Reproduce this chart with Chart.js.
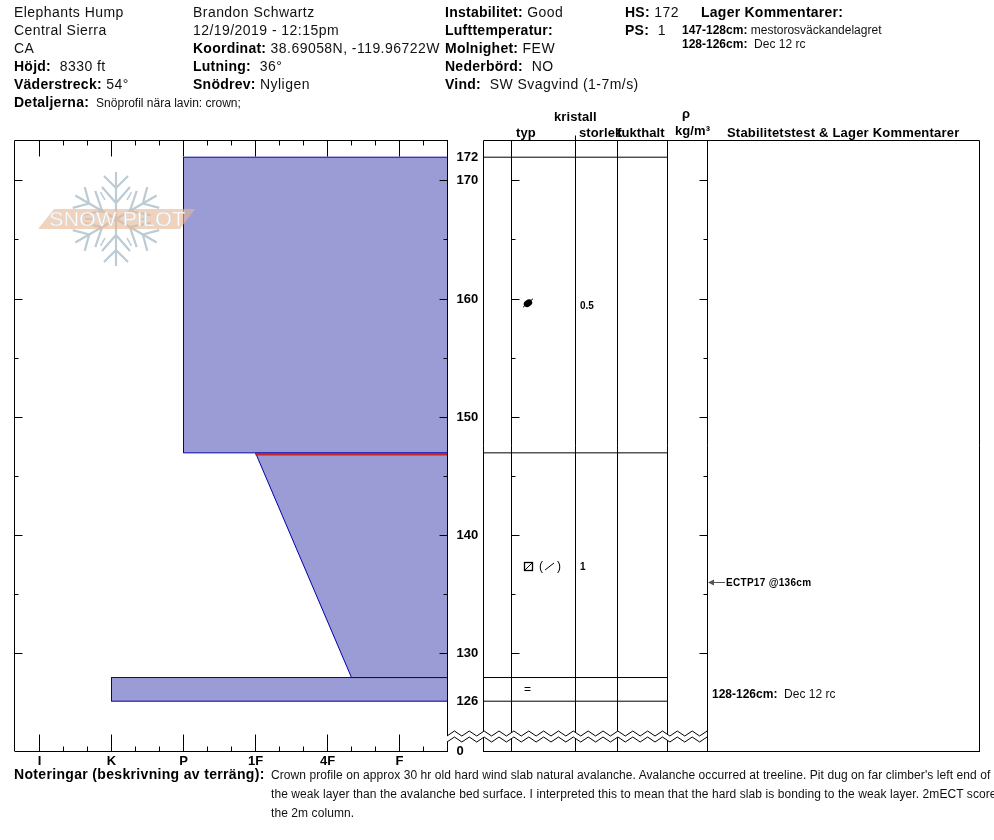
<!DOCTYPE html>
<html>
<head>
<meta charset="utf-8">
<title>Snow profile</title>
<script src="https://cdn.jsdelivr.net/npm/chart.js@4"></script>
<style>
html,body{margin:0;padding:0;background:#fff;width:994px;height:840px;overflow:hidden}
canvas{position:absolute;left:0;top:0}
.t{position:absolute;white-space:nowrap;font-family:"Liberation Sans",Arial,sans-serif;font-size:14px;line-height:18px;color:#111;letter-spacing:.45px}
.t b{font-weight:bold;color:#000;letter-spacing:.25px}
.s{font-size:12px;letter-spacing:0}
.s b{letter-spacing:0}
.h{font-size:13px;letter-spacing:0}
.h b{letter-spacing:.1px}
.n{font-size:12px;letter-spacing:.08px}
#logo{position:absolute;left:0;top:0}
</style>
</head>
<body>
<canvas id="profile" width="994" height="840"></canvas>
<canvas id="table" width="994" height="840"></canvas>
<svg id="logo" width="994" height="840">
  <defs>
    <g id="arm" fill="none" stroke="#bccbd4" stroke-width="2.2">
      <path d="M116 219V172M104 176L116 188L128 176M102 187L116 203L130 187"/>
      <path d="M116 197V188" stroke-width="1.5" transform="rotate(30 116 219)"/>
    </g>
  </defs>
  <use href="#arm"/>
  <use href="#arm" transform="rotate(60 116 219)"/>
  <use href="#arm" transform="rotate(120 116 219)"/>
  <use href="#arm" transform="rotate(180 116 219)"/>
  <use href="#arm" transform="rotate(240 116 219)"/>
  <use href="#arm" transform="rotate(300 116 219)"/>
  <polygon points="38,229 54,209 195,209 180,229" fill="#e8b894" fill-opacity="0.62"/>
  <text x="49" y="226" textLength="136" lengthAdjust="spacingAndGlyphs" font-family="Liberation Sans" font-size="20" fill="#ffffff" stroke="#d5dadd" stroke-width="0.5">SNOW PILOT</text>
</svg>

<div class="t" style="left:14px;top:3px">Elephants Hump</div>
<div class="t" style="left:14px;top:21px">Central Sierra</div>
<div class="t" style="left:14px;top:39px">CA</div>
<div class="t" style="left:14px;top:57px"><b>Höjd:</b>&nbsp; 8330 ft</div>
<div class="t" style="left:14px;top:75px"><b>Väderstreck:</b>&nbsp;54°</div>
<div class="t" style="left:14px;top:93px"><b>Detaljerna:</b><span class="s" style="margin-left:7px">Snöprofil nära lavin: crown;</span></div>

<div class="t" style="left:193px;top:3px">Brandon Schwartz</div>
<div class="t" style="left:193px;top:21px">12/19/2019 - 12:15pm</div>
<div class="t" style="left:193px;top:39px"><b>Koordinat:</b> 38.69058N, -119.96722W</div>
<div class="t" style="left:193px;top:57px"><b>Lutning:</b>&nbsp; 36°</div>
<div class="t" style="left:193px;top:75px"><b>Snödrev:</b>&nbsp;Nyligen</div>

<div class="t" style="left:445px;top:3px"><b>Instabilitet:</b>&nbsp;Good</div>
<div class="t" style="left:445px;top:21px"><b>Lufttemperatur:</b></div>
<div class="t" style="left:445px;top:39px"><b>Molnighet:</b> FEW</div>
<div class="t" style="left:445px;top:57px"><b>Nederbörd:</b>&nbsp; NO</div>
<div class="t" style="left:445px;top:75px"><b>Vind:</b>&nbsp; SW Svagvind (1-7m/s)</div>

<div class="t" style="left:625px;top:3px"><b>HS:</b> 172</div>
<div class="t" style="left:625px;top:21px"><b>PS:</b>&nbsp; 1</div>
<div class="t" style="left:701px;top:3px"><b>Lager Kommentarer:</b></div>
<div class="t s" style="left:682px;top:21px"><b>147-128cm:</b> mestorosväckandelagret</div>
<div class="t s" style="left:682px;top:35px"><b>128-126cm:</b>&nbsp; Dec 12 rc</div>

<div class="t h" style="left:554px;top:108px"><b>kristall</b></div>
<div class="t h" style="left:516px;top:124px"><b>typ</b></div>
<div class="t h" style="left:579px;top:124px"><b>storlek</b></div>
<div class="t h" style="left:617px;top:124px"><b>fukthalt</b></div>
<div class="t h" style="left:682px;top:105px"><b>ρ</b></div>
<div class="t h" style="left:675px;top:122px"><b>kg/m³</b></div>
<div class="t h" style="left:727px;top:124px"><b style="letter-spacing:.2px">Stabilitetstest &amp; Lager Kommentarer</b></div>

<div class="t s" style="left:712px;top:685px"><b>128-126cm:</b>&nbsp; Dec 12 rc</div>

<div class="t" style="left:14px;top:765px"><b style="letter-spacing:.33px">Noteringar (beskrivning av terräng):</b></div>
<div class="t n" style="left:271px;top:766px">Crown profile on approx 30 hr old hard wind slab natural avalanche. Avalanche occurred at treeline. Pit dug on far climber's left end of</div>
<div class="t n" style="left:271px;top:785px">the weak layer than the avalanche bed surface. I interpreted this to mean that the hard slab is bonding to the weak layer. 2mECT score</div>
<div class="t n" style="left:271px;top:804px">the 2m column.</div>

<script>
// layers, top to bottom
const layerTop = [172, 147, 128];
const layerBottom = [147, 128, 126];
const hardnessAtTop = [7, 10, 4];
const hardnessAtBottom = [7, 14, 4];
const weakLayerDepth = [146.87];
const weakLayerHardness = [10];

// table rows
const gridLines = [172, 147, 128, 126];
const grainDepth = [159.65, 137.4, 126.95];
const grainSize = ["0.5", "1"];
const grainSizeDepth = [159.45, 137.4];
const stabilityDepth = [136];
const stabilityTest = ["ECTP17 @136cm"];

// axes
const hardnessNames = ["I", "K", "P", "1F", "4F", "F"];
const hardnessTicks = [1, 4, 7, 10, 13, 16];
const depthLabels = [172, 170, 160, 150, 140, 130, 126];
const minorDepths = [165, 155, 145, 135];
const majorDepths = [170, 160, 150, 140, 130];

const xEnd = 18;
const yTop = 173.412;
const yBottom = 121.746; // below this the axis is broken down to 0
const columns = [0, 28, 92, 134, 184, 224, 496];

const fillColor = "#9b9bd6";
const edgeColor = "#0000a8";
const font = "Liberation Sans";

function layerPoints(i) {
    return [
        {x: hardnessAtTop[i], y: layerTop[i]},
        {x: hardnessAtBottom[i], y: layerBottom[i]},
        {x: xEnd, y: layerBottom[i]},
        {x: xEnd, y: layerTop[i]},
        {x: hardnessAtTop[i], y: layerTop[i]}
    ];
}

const profileFrame = {
    id: "profileFrame",
    afterDraw(chart) {
        const {ctx, chartArea: a, scales: {x, y}} = chart;
        ctx.save();
        ctx.strokeStyle = "#000";
        ctx.lineWidth = 1;
        ctx.beginPath();
        ctx.moveTo(a.left - 1, a.bottom);
        ctx.lineTo(a.left - 1, a.top);
        ctx.lineTo(a.right, a.top);
        ctx.lineTo(a.right, a.bottom);
        for (let v = 1; v < xEnd; v++) {
            const px = Math.floor(x.getPixelForValue(v)) + 0.5;
            const major = hardnessTicks.includes(v);
            ctx.moveTo(px, a.top);
            ctx.lineTo(px, a.top + (major ? 16 : 5));
            ctx.moveTo(px, a.bottom);
            ctx.lineTo(px, a.bottom - (major ? 17 : 5));
        }
        for (const v of majorDepths.concat(minorDepths)) {
            const py = Math.floor(y.getPixelForValue(v)) + 0.5;
            const len = majorDepths.includes(v) ? 8 : 4;
            ctx.moveTo(a.left - 1, py);
            ctx.lineTo(a.left - 1 + len, py);
            ctx.moveTo(a.right, py);
            ctx.lineTo(a.right - len, py);
        }
        ctx.stroke();
        ctx.restore();
    }
};

const tableDetails = {
    id: "tableDetails",
    afterDraw(chart) {
        const {ctx, chartArea: a, scales: {x, y}} = chart;
        const typeX = x.getPixelForValue(columns[1]);
        const rhoX = x.getPixelForValue(columns[5]);
        ctx.save();
        ctx.strokeStyle = "#000";
        ctx.fillStyle = "#000";
        ctx.lineWidth = 1;
        ctx.beginPath();
        ctx.moveTo(a.left, a.top);
        ctx.lineTo(a.right, a.top);
        const sizeX = x.getPixelForValue(columns[2]);
        ctx.moveTo(sizeX, a.top);
        ctx.lineTo(sizeX, a.top - 5);
        for (const v of majorDepths.concat(minorDepths)) {
            const py = Math.floor(y.getPixelForValue(v)) + 0.5;
            const len = majorDepths.includes(v) ? 8 : 4;
            ctx.moveTo(typeX, py);
            ctx.lineTo(typeX + len, py);
            ctx.moveTo(rhoX, py);
            ctx.lineTo(rhoX - len, py);
        }
        ctx.stroke();

        // grain forms
        const markX = 528;
        const y0 = y.getPixelForValue(grainDepth[0]);
        ctx.beginPath();
        ctx.ellipse(markX, y0, 4.5, 3.4, -0.6, 0, 7);
        ctx.fill();
        ctx.beginPath();
        ctx.moveTo(markX - 5, y0 + 4);
        ctx.lineTo(markX + 5, y0 - 4.5);
        ctx.stroke();

        const y1 = Math.floor(y.getPixelForValue(grainDepth[1])) + 0.5;
        ctx.lineWidth = 1.3;
        ctx.strokeRect(524.5, y1 - 4, 8, 8);
        ctx.lineWidth = 1;
        ctx.beginPath();
        ctx.moveTo(524.5, y1 + 4);
        ctx.lineTo(532.5, y1 - 4);
        ctx.moveTo(545, y1 + 3.5);
        ctx.lineTo(554, y1 - 3.5);
        ctx.stroke();
        ctx.font = "12px '" + font + "'";
        ctx.textBaseline = "middle";
        ctx.fillText("(", 539, y1);
        ctx.fillText(")", 557, y1);
        ctx.fillText("=", 524, y.getPixelForValue(grainDepth[2]));

        ctx.font = "bold 10px '" + font + "'";
        grainSize.forEach((s, i) => ctx.fillText(s, 580, y.getPixelForValue(grainSizeDepth[i]) + 0.5));

        // stability test arrow
        const testY = Math.floor(y.getPixelForValue(stabilityDepth[0])) + 0.5;
        ctx.strokeStyle = "#555";
        ctx.fillStyle = "#555";
        ctx.beginPath();
        ctx.moveTo(713, testY);
        ctx.lineTo(725, testY);
        ctx.stroke();
        ctx.beginPath();
        ctx.moveTo(708, testY);
        ctx.lineTo(714, testY - 3);
        ctx.lineTo(714, testY + 3);
        ctx.fill();
        ctx.fillStyle = "#000";
        ctx.letterSpacing = "0.3px";
        ctx.fillText(stabilityTest[0], 726, testY + 1);
        ctx.letterSpacing = "0px";

        // axis break
        const top = [], bottom = [];
        for (let i = 0; i <= 35; i++) {
            const px = 447 + i * 7.43;
            const up = i % 2 === 1;
            top.push([px, up ? 731 : 736]);
            bottom.push([px, up ? 737 : 742]);
        }
        ctx.fillStyle = "#fff";
        ctx.beginPath();
        top.forEach(p => ctx.lineTo(p[0], p[1]));
        bottom.slice().reverse().forEach(p => ctx.lineTo(p[0], p[1]));
        ctx.closePath();
        ctx.fill();
        ctx.strokeStyle = "#000";
        for (const line of [top, bottom]) {
            ctx.beginPath();
            line.forEach(p => ctx.lineTo(p[0], p[1]));
            ctx.stroke();
        }
        ctx.restore();
    }
};

new Chart(document.getElementById("profile"), {
    type: "scatter",
    data: {
        datasets: layerTop.map((t, i) => ({
            data: layerPoints(i),
            showLine: true,
            fill: "shape",
            backgroundColor: fillColor,
            borderColor: edgeColor,
            borderWidth: 1,
            pointRadius: 0,
            order: 1
        })).concat([{
            data: [{x: weakLayerHardness[0], y: weakLayerDepth[0]}, {x: xEnd, y: weakLayerDepth[0]}],
            showLine: true,
            borderColor: "#c8242a",
            borderWidth: 2,
            pointRadius: 0,
            order: 0
        }])
    },
    options: {
        responsive: false,
        animation: false,
        devicePixelRatio: 1,
        layout: {autoPadding: false, padding: {left: 15.5, top: 140.5, right: 510.5, bottom: 68.5}},
        plugins: {legend: {display: false}, title: {display: false}, tooltip: {enabled: false}},
        scales: {
            x: {
                type: "linear",
                min: 0,
                max: xEnd,
                afterBuildTicks(s) { s.ticks = hardnessTicks.map(v => ({value: v})); },
                afterFit(s) { s.height = 20; },
                grid: {display: false, drawTicks: false},
                border: {display: true, color: "#000"},
                ticks: {
                    autoSkip: false,
                    maxRotation: 0,
                    padding: 2,
                    color: "#000",
                    font: {family: font, size: 13, weight: "bold"},
                    callback: v => hardnessNames[hardnessTicks.indexOf(v)]
                }
            },
            y: {
                type: "linear",
                position: "right",
                min: yBottom,
                max: yTop,
                afterBuildTicks(s) { s.ticks = depthLabels.concat([yBottom]).map(v => ({value: v})); },
                afterFit(s) { s.width = 36; },
                grid: {display: false, drawTicks: false},
                border: {display: true, color: "#000"},
                ticks: {
                    autoSkip: false,
                    padding: 9,
                    color: "#000",
                    font: {family: font, size: 13, weight: "bold"},
                    callback: v => (v === yBottom ? "0" : String(v))
                }
            }
        }
    },
    plugins: [profileFrame]
});

new Chart(document.getElementById("table"), {
    type: "scatter",
    data: {
        datasets: gridLines.map(d => ({
            data: [{x: columns[0], y: d}, {x: columns[4], y: d}],
            showLine: true,
            borderColor: "#000",
            borderWidth: 1,
            pointRadius: 0
        }))
    },
    options: {
        responsive: false,
        animation: false,
        devicePixelRatio: 1,
        layout: {autoPadding: false, padding: {left: 483.5, top: 140.5, right: 14.5, bottom: 88.5}},
        plugins: {legend: {display: false}, title: {display: false}, tooltip: {enabled: false}},
        scales: {
            x: {
                type: "linear",
                min: columns[0],
                max: columns[6],
                afterBuildTicks(s) { s.ticks = columns.map(v => ({value: v})); },
                afterFit(s) { s.height = 0; },
                grid: {color: "#000", lineWidth: 1, drawTicks: false},
                border: {display: true, color: "#000"},
                ticks: {display: false}
            },
            y: {display: false, min: yBottom, max: yTop}
        }
    },
    plugins: [tableDetails]
});
</script>
</body>
</html>
